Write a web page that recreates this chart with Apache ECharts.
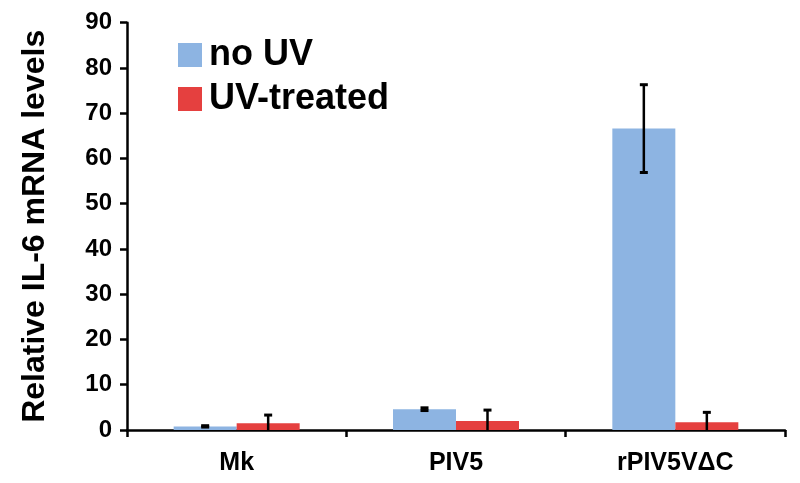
<!DOCTYPE html>
<html>
<head>
<meta charset="utf-8">
<script src="https://cdn.jsdelivr.net/npm/echarts@6/dist/echarts.min.js"></script>
<style>html,body{margin:0;padding:0;background:#fff}#c{width:800px;height:483px}</style>
</head>
<body>
<div id="c"></div>
<script>
var categories = ['Mk', 'PIV5', 'rPIV5V\u0394C'];
var noUV = [0.8, 4.6, 66.6];
var noUVErr = [0.15, 0.3, 9.7];
var uvTreated = [1.5, 2.0, 1.7];
var uvTreatedErr = [1.8, 2.4, 2.2];
var yTicks = [0, 10, 20, 30, 40, 50, 60, 70, 80, 90];

var BLUE = '#8DB4E2', RED = '#E5403F';
var BAR_W = 63;
var FONT = 'Liberation Sans';

function errSeries(vals, errs, offset) {
  var data = vals.map(function (v, i) { return [i, v, errs[i]]; });
  return {
    type: 'custom',
    z: 10,
    silent: true,
    data: data,
    renderItem: function (params, api) {
      var i = api.value(0), v = api.value(1), e = api.value(2);
      var top = api.coord([i, v + e]);
      var bot = api.coord([i, v - e]);
      var x = top[0] + offset;
      var y0 = api.coord([i, 0])[1];
      var capW = 8;
      var children = [
        { type: 'line', shape: { x1: x - capW / 2, y1: top[1], x2: x + capW / 2, y2: top[1] }, style: { stroke: '#000', lineWidth: 3 } }
      ];
      if (bot[1] > y0) {
        children.push({ type: 'line', shape: { x1: x, y1: top[1], x2: x, y2: y0 }, style: { stroke: '#000', lineWidth: 2.5 } });
      } else {
        children.push({ type: 'line', shape: { x1: x, y1: top[1], x2: x, y2: bot[1] }, style: { stroke: '#000', lineWidth: 2.5 } });
        children.push({ type: 'line', shape: { x1: x - capW / 2, y1: bot[1], x2: x + capW / 2, y2: bot[1] }, style: { stroke: '#000', lineWidth: 3 } });
      }
      return { type: 'group', children: children };
    }
  };
}

var chart = echarts.init(document.getElementById('c'), null, { renderer: 'canvas' });
chart.setOption({
  animation: false,
  backgroundColor: '#fff',
  grid: { left: 127, right: 15, top: 22.7, bottom: 53 },
  legend: {
    orient: 'vertical',
    left: 178,
    top: 37,
    padding: 0,
    itemWidth: 24,
    itemHeight: 24,
    itemGap: 8,
    icon: 'rect',
    data: ['no UV', 'UV-treated'],
    textStyle: { fontFamily: FONT, fontWeight: 'bold', fontSize: 36, color: '#000', padding: [0, 0, 0, 2] }
  },
  xAxis: {
    type: 'category',
    data: categories,
    axisLine: { lineStyle: { color: '#000', width: 2.5 } },
    axisTick: { show: true, length: 7, inside: false, lineStyle: { color: '#000', width: 2.5 } },
    axisLabel: { margin: 21, fontFamily: FONT, fontWeight: 'bold', fontSize: 25, color: '#000' }
  },
  yAxis: {
    type: 'value',
    min: 0,
    max: 90,
    interval: 10,
    name: 'Relative IL-6 mRNA levels',
    nameLocation: 'middle',
    nameGap: 76,
    nameTextStyle: { fontFamily: FONT, fontWeight: 'bold', fontSize: 32, color: '#000' },
    splitLine: { show: false },
    axisLine: { show: true, lineStyle: { color: '#000', width: 2.5 } },
    axisTick: { show: true, length: 7, lineStyle: { color: '#000', width: 2.5 } },
    axisLabel: {
      margin: 15, fontFamily: FONT, fontWeight: 'bold', fontSize: 24, color: '#000',
      formatter: function (v) { return yTicks.indexOf(v) >= 0 ? String(v) : ''; }
    }
  },
  series: [
    { name: 'no UV', type: 'bar', data: noUV, barWidth: BAR_W, barGap: '0%', itemStyle: { color: BLUE } },
    { name: 'UV-treated', type: 'bar', data: uvTreated, barWidth: BAR_W, barGap: '0%', itemStyle: { color: RED } },
    errSeries(noUV, noUVErr, -BAR_W / 2),
    errSeries(uvTreated, uvTreatedErr, BAR_W / 2)
  ]
});
</script>
</body>
</html>
